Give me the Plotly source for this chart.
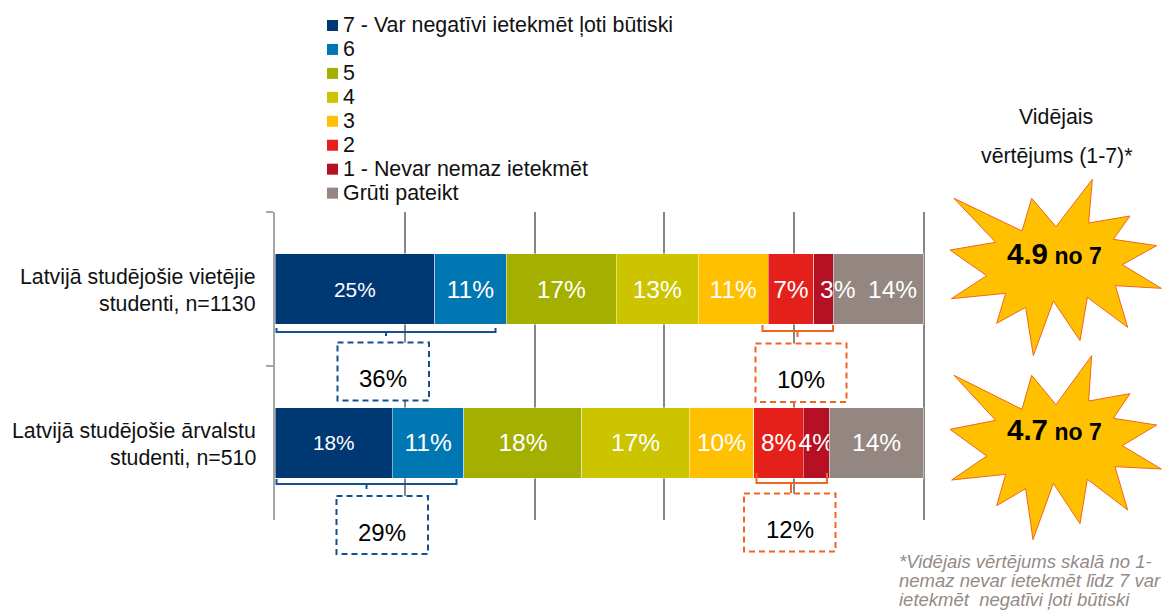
import plotly.graph_objects as go

categories = ["Latvijā studējošie vietējie<br>studenti, n=1130", "Latvijā studējošie ārvalstu<br>studenti, n=510"]
series_names = ["7 - Var negatīvi ietekmēt ļoti būtiski", "6", "5", "4", "3", "2", "1 - Nevar nemaz ietekmēt", "Grūti pateikt"]
colors = ["#003873", "#0077B3", "#A4AF00", "#CDC400", "#FFC000", "#E51F1A", "#B51024", "#948681"]
row_local = [24.6, 11.0, 17.0, 12.6, 10.8, 7.0, 3.0, 14.0]
row_foreign = [18.1, 11.0, 18.2, 16.5, 10.0, 7.6, 4.0, 14.6]
labels_local = ["25%", "11%", "17%", "13%", "11%", "7%", "3%", "14%"]
labels_foreign = ["18%", "11%", "18%", "17%", "10%", "8%", "4%", "14%"]
label_sizes = [20.8, 24.5, 24.5, 24.5, 24.5, 24.5, 24.5, 24.5]
totals_top = ["36%", "29%"]
totals_bottom = ["10%", "12%"]
mean_scores = ["4.9", "4.7"]
mean_header = ["Vidējais", "vērtējums (1-7)*"]
footnote = ["*Vidējais vērtējums skalā no 1-", "nemaz nevar ietekmēt līdz 7 var", "ietekmēt\u00a0 negatīvi ļoti būtiski"]

W, H = 1165, 612
L, R, T, B = 275, 926, 212, 520
FONT = "Liberation Sans"
BLUE, ORANGE = "#12508F", "#F0651F"

def px(x):
    return (x - L) / (R - L)

def py(y):
    return (B - y) / (B - T)

def path(points, close=False):
    s = "M " + " L ".join(f"{px(x):.5f},{py(y):.5f}" for x, y in points)
    return s + (" Z" if close else "")

fig = go.Figure()
# first-row labels that the reference places off-centre are added as annotations below
offset_labels = {6: 14, 7: 14}
for i, name in enumerate(series_names):
    t0 = "" if i in offset_labels else labels_local[i]
    fig.add_trace(go.Bar(
        name=name, orientation="h", y=categories, x=[row_local[i], row_foreign[i]],
        marker=dict(color=colors[i], line=dict(color="rgba(255,255,255,0.45)", width=1)),
        text=[t0, labels_foreign[i]], textposition="inside", insidetextanchor="middle",
        textangle=0, constraintext="none", cliponaxis=False,
        textfont=dict(color="#FFFFFF", size=label_sizes[i], family=FONT),
        hoverinfo="skip", showlegend=False,
    ))

ann = []
def text(x, y, s, size=21.4, color="#000000", xanchor="center", **kw):
    ann.append(dict(x=px(x), y=py(y), xref="paper", yref="paper", text=s, showarrow=False,
                    xanchor=xanchor, yanchor="middle", borderpad=0,
                    font=dict(size=size, color=color, family=FONT), **kw))

for i, shift in offset_labels.items():
    ann.append(dict(x=sum(row_local[:i]) + row_local[i] / 2, y=categories[0], xref="x", yref="y",
                    text=labels_local[i], showarrow=False, xshift=shift, xanchor="center", yanchor="middle",
                    font=dict(size=label_sizes[i], color="#FFFFFF", family=FONT)))

# category labels
for cat, y0 in zip(categories, (277, 431)):
    for j, line in enumerate(cat.split("<br>")):
        text(257, y0 + j * 27, line, size=21.3, color="#111111", xanchor="right")

shapes = []
# legend
for i, name in enumerate(series_names):
    yc = 25.5 + i * 23.95
    shapes.append(dict(type="path", xref="paper", yref="paper", line_width=0, fillcolor=colors[i],
                       path=path([(327, yc - 5.5), (338, yc - 5.5), (338, yc + 5.5), (327, yc + 5.5)], True)))
    text(342, yc, name, size=21.4, color="#111111", xanchor="left")

# brackets
brackets = [
    (BLUE, 276.5, 495.5, 328, 332, 386, 336),
    (BLUE, 276.5, 456.5, 479, 484, 366.5, 489),
    (ORANGE, 762.5, 833, 325, 331, 797.5, 337),
    (ORANGE, 756.5, 827, 473, 483, 791, 493),
]
for c, x0, x1, y0, y1, xs, ys in brackets:
    for pts in ([(x0, y0), (x0, y1), (x1, y1), (x1, y0)], [(xs, y1), (xs, ys)]):
        shapes.append(dict(type="path", xref="paper", yref="paper", path=path(pts),
                           line=dict(color=c, width=2)))

# dashed boxes
boxes = [
    (BLUE, 337.5, 429, 342.5, 400.5, totals_top[0]),
    (BLUE, 336.5, 428, 496, 554, totals_top[1]),
    (ORANGE, 755.5, 846.5, 343.5, 402, totals_bottom[0]),
    (ORANGE, 744, 835.5, 493.5, 551.5, totals_bottom[1]),
]
for c, x0, x1, y0, y1, s in boxes:
    shapes.append(dict(type="rect", xref="paper", yref="paper", x0=px(x0), x1=px(x1), y0=py(y0), y1=py(y1),
                       fillcolor="#FFFFFF", line=dict(color=c, width=2, dash="6px,4px")))
    text((x0 + x1) / 2, (y0 + y1) / 2 + 7, s, size=24)

# starbursts
star_a = [(487,268),(476,399),(600,378),(550,448),(680,467),(577,524),(694,595),(556,587),(593,712),(472,622),(450,752),(370,633),(310,797),(287,652),(200,700),(227,610),(64,626),(170,557),(60,480),(197,457),(72,325),(276,423),(305,325),(378,410)]
star_b = [(485,-13),(476,123),(600,101),(550,175),(680,195),(577,257),(694,327),(555,320),(593,450),(472,358),(450,491),(370,370),(309,539),(287,386),(200,437),(227,343),(65,360),(170,288),(60,208),(197,181),(72,46),(276,148),(305,46),(378,134)]
for pts, oy in ((star_a, 90), (star_b, 360)):
    shapes.append(dict(type="path", xref="paper", yref="paper", fillcolor="#FFC000",
                       line=dict(color="#F0651F", width=1),
                       path=path([(930 + a / 3, oy + b / 3) for a, b in pts], True)))
for score, yc in zip(mean_scores, (253.5, 429.5)):
    text(1054.5, yc, f"<b><span style='font-size:29.5px'>{score}</span> no 7</b>", size=23)

text(1056, 117, mean_header[0], size=21.3, color="#111111")
text(1056, 156, mean_header[1], size=21.3, color="#111111")
for line, y in zip(footnote, (561, 580.5, 599.5)):
    text(898, y, f"<i>{line}</i>", size=18.5, color="#958A85", xanchor="left")

fig.update_layout(
    width=W, height=H, margin=dict(l=L, r=W - R, t=T, b=H - B, pad=0),
    barmode="stack", bargap=0.545, plot_bgcolor="#FFFFFF", paper_bgcolor="#FFFFFF",
    font=dict(family=FONT), showlegend=False, shapes=shapes, annotations=ann,
    xaxis=dict(range=[0, 100.31], dtick=20, showgrid=True, gridcolor="#868686", gridwidth=1.5,
               zeroline=False, showticklabels=False, ticks="", showline=False),
    yaxis=dict(autorange=False, range=[1.5, -0.5], type="category", tickson="boundaries", ticks="outside", ticklen=7,
               tickcolor="#A6A6A6", tickwidth=1.5, showline=True, linecolor="#A6A6A6", linewidth=1.5,
               showticklabels=False, showgrid=False, zeroline=False),
)
fig.write_html("out.html", config={"displayModeBar": False},
               post_script="document.body.style.margin='0';document.body.style.overflow='hidden';")
